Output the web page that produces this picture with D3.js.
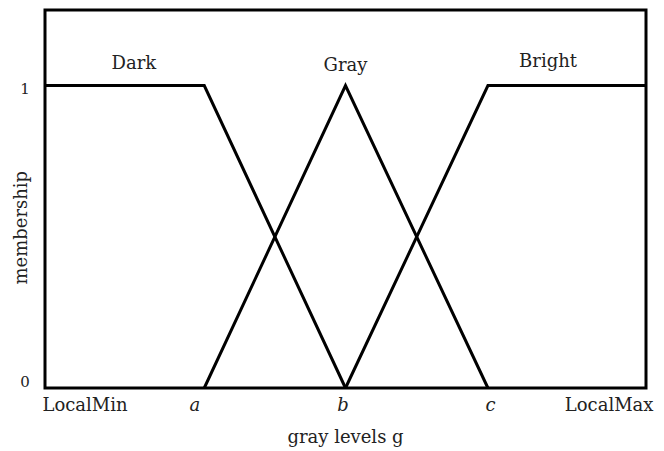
<!DOCTYPE html>
<html>
<head>
<meta charset="utf-8">
<script src="https://cdn.jsdelivr.net/npm/d3@7"></script>
<style>
  body { margin: 0; background: #fff; }
  text { font-family: "DejaVu Serif", Georgia, serif; fill: #222; }
</style>
</head>
<body>
<svg id="plot"></svg>
<script>
var width = 664;
var height = 451;
var margin = {top: 10, right: 18, bottom: 63, left: 45};

// gray level positions (0 = LocalMin, 100 = LocalMax)
var tickNames = ["LocalMin", "a", "b", "c", "LocalMax"];
var tickVals = [0, 26.5, 50, 73.7, 100];

var setNames = ["Dark", "Gray", "Bright"];
var labelX = [14.8, 50, 83.7];
var labelMu = [1.055, 1.047, 1.06];

var darkX = [0, 26.5, 50];
var darkMu = [1, 1, 0];
var grayX = [26.5, 50, 73.7];
var grayMu = [0, 1, 0];
var brightX = [50, 73.7, 100];
var brightMu = [0, 1, 1];

var series = [
    {x: darkX, mu: darkMu},
    {x: grayX, mu: grayMu},
    {x: brightX, mu: brightMu}
];

var svg = d3.select("#plot")
    .attr("width", width)
    .attr("height", height);

var xScale = d3.scaleLinear()
    .domain([0, 100])
    .range([margin.left, width - margin.right]);
var yScale = d3.scaleLinear()
    .domain([0, 1.25])
    .range([height - margin.bottom, margin.top]);

// frame
svg.append("rect")
    .attr("x", xScale(0))
    .attr("y", yScale(1.25))
    .attr("width", xScale(100) - xScale(0))
    .attr("height", yScale(0) - yScale(1.25))
    .attr("fill", "none")
    .attr("stroke", "#000")
    .attr("stroke-width", 3);

var line = d3.line()
    .x(function (d) { return xScale(d[0]); })
    .y(function (d) { return yScale(d[1]); });

svg.selectAll(".set")
    .data(series)
    .enter()
    .append("path")
    .attr("class", "set")
    .attr("d", function (s) { return line(d3.zip(s.x, s.mu)); })
    .attr("fill", "none")
    .attr("stroke", "#000")
    .attr("stroke-width", 3)
    .attr("stroke-linejoin", "miter");

svg.selectAll(".set-label")
    .data(setNames)
    .enter()
    .append("text")
    .attr("class", "set-label")
    .attr("x", function (d, i) { return xScale(labelX[i]); })
    .attr("y", function (d, i) { return yScale(labelMu[i]); })
    .attr("text-anchor", "middle")
    .attr("font-size", 18)
    .text(function (d) { return d; });

// x axis
var xAxis = svg.append("g")
    .attr("transform", "translate(0," + yScale(0) + ")")
    .call(d3.axisBottom(xScale)
        .tickValues(tickVals)
        .tickSize(0)
        .tickPadding(10)
        .tickFormat(function (d, i) { return tickNames[i]; }));
xAxis.select(".domain").remove();
xAxis.selectAll("text")
    .attr("font-family", "DejaVu Serif")
    .attr("font-size", 18)
    .attr("fill", "#222")
    .attr("dy", "0.72em")
    .attr("font-style", function (d, i) { return i > 0 && i < 4 ? "italic" : "normal"; })
    .attr("text-anchor", function (d, i) { return i == 0 ? "start" : (i == 4 ? "end" : "middle"); })
    .attr("dx", function (d, i) { return [-3, -10, -3, 2, 7][i]; });

// y axis
var yAxis = svg.append("g")
    .attr("transform", "translate(" + xScale(0) + ",0)")
    .call(d3.axisLeft(yScale)
        .tickValues([0, 1])
        .tickSize(0)
        .tickPadding(20)
        .tickFormat(d3.format("d")));
yAxis.select(".domain").remove();
yAxis.selectAll("text")
    .attr("font-family", "DejaVu Serif")
    .attr("font-size", 15)
    .attr("fill", "#222")
    .attr("text-anchor", "middle")
    .attr("dy", function (d) { return d == 0 ? "-0.1em" : "0.5em"; });

svg.append("text")
    .attr("x", xScale(50))
    .attr("y", 443)
    .attr("text-anchor", "middle")
    .attr("font-size", 18)
    .text("gray levels g");

svg.append("text")
    .attr("transform", "translate(27," + yScale(0.53) + ") rotate(-90)")
    .attr("text-anchor", "middle")
    .attr("font-size", 18)
    .text("membership");
</script>
</body>
</html>
